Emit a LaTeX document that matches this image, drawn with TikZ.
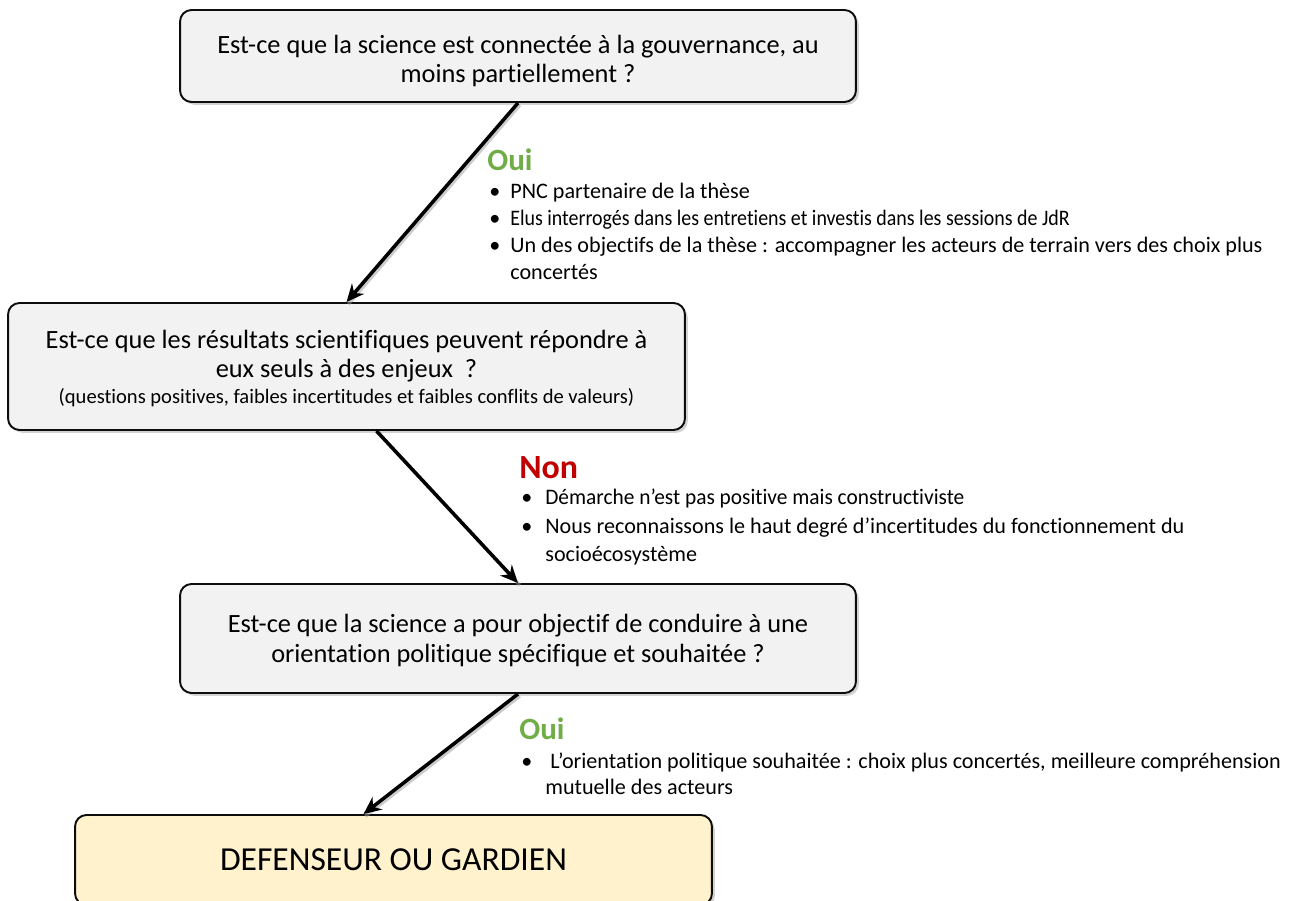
\documentclass[tikz,border=0pt]{standalone}
\usepackage{fontspec}
\setmainfont{Carlito}[Ligatures=NoCommon]
\usetikzlibrary{shadows,arrows.meta}
\definecolor{boxgray}{HTML}{F2F2F2}
\definecolor{boxyellow}{HTML}{FFF2CC}
\definecolor{ouigreen}{HTML}{70AD47}
\definecolor{nonred}{HTML}{C00000}
\tikzset{
  qbox/.style={draw=black!95, line width=1.1pt, fill=boxgray, rounded corners=6.5pt,
    inner sep=0pt,
    drop shadow={shadow xshift=1.6pt, shadow yshift=-1.6pt, opacity=0.35}},
  qtext/.style={font=\fontsize{15}{16.6}\selectfont, align=center, inner sep=0pt},
  flow/.style={line width=2pt, -{Stealth[length=10pt,width=9pt]},
    preaction={draw=black!40, opacity=0.5, line width=2pt, -, transform canvas={xshift=1pt,yshift=-1.2pt}}},
  yes/.style={font=\fontsize{17.6}{20}\selectfont\bfseries, text=ouigreen, inner sep=0pt, anchor=base west},
  no/.style={font=\fontsize{19.3}{20}\selectfont\bfseries, text=nonred, inner sep=0pt, anchor=base west},
  blist/.style={inner sep=0pt, anchor=base west, align=left},
}
\begin{document}
\begin{tikzpicture}[x=0.02cm,y=-0.02cm]
\useasboundingbox (0,0) rectangle (1291,901);

\node[qbox, minimum width=13.52cm, minimum height=1.84cm] (q1) at (518,56) {};
\node[qtext] (q1t) at (518,61)
  {Est-ce que la science est connectée à la gouvernance, au\\ moins partiellement ?};

\node[qbox, minimum width=13.54cm, minimum height=2.54cm] (q2) at (346.5,366.5) {};
\node[qtext] (q2t) at (346.5,368.5)
  {Est-ce que les résultats scientifiques peuvent répondre à\\ eux seuls à des enjeux\ \ ?\\[-1.5pt]
   {\fontsize{11.7}{14}\selectfont (questions positives, faibles incertitudes et faibles conflits de valeurs)}};

\node[qbox, minimum width=13.52cm, minimum height=2.18cm] (q3) at (518,638.5) {};
\node[qtext] (q3t) at (518,640.5)
  {Est-ce que la science a pour objectif de conduire à une\\ orientation politique spécifique et souhaitée ?};

\node[qbox, fill=boxyellow, minimum width=12.74cm, minimum height=1.8cm,
  font=\fontsize{19.1}{22}\selectfont] (q4) at (393.5,860)
  {DEFENSEUR OU GARDIEN};

\draw[flow] (q1.south) -- (q2.north);
\draw[flow] ([xshift=0.6cm]q2.south) -- (q3.north);
\draw[flow] (q3.south) -- ([xshift=-0.6cm]q4.north);

\node[yes] (l1) at (487,171) {Oui};
\node[blist] (b1) at (489,199) {\fontsize{12.6}{15.3}\selectfont
  \begin{tabular}[t]{@{}p{0.42cm}@{}l@{}}
  \textbullet & PNC partenaire de la thèse\\
  \textbullet & \scalebox{0.9}[1]{Elus interrogés dans les entretiens et investis dans les sessions de JdR}\\
  \textbullet & Un des objectifs de la thèse : accompagner les acteurs de terrain vers des choix plus\\
   & concertés
  \end{tabular}};

\node[no] (l2) at (519,479) {Non};
\node[blist] (b2) at (521,505) {\fontsize{12.6}{16.2}\selectfont
  \begin{tabular}[t]{@{}p{0.48cm}@{}l@{}}
  \textbullet & \scalebox{0.965}[1]{Démarche n’est pas positive mais constructiviste}\\
  \textbullet & Nous reconnaissons le haut degré d’incertitudes du fonctionnement du\\
   & socioécosystème
  \end{tabular}};

\node[yes] (l3) at (519,739) {Oui};
\node[blist] (b3) at (521,768) {\fontsize{12.6}{14.8}\selectfont
  \begin{tabular}[t]{@{}p{0.48cm}@{}l@{}}
  \textbullet & \ L’orientation politique souhaitée : choix plus concertés, meilleure compréhension\\
   & mutuelle des acteurs
  \end{tabular}};
\end{tikzpicture}
\end{document}
